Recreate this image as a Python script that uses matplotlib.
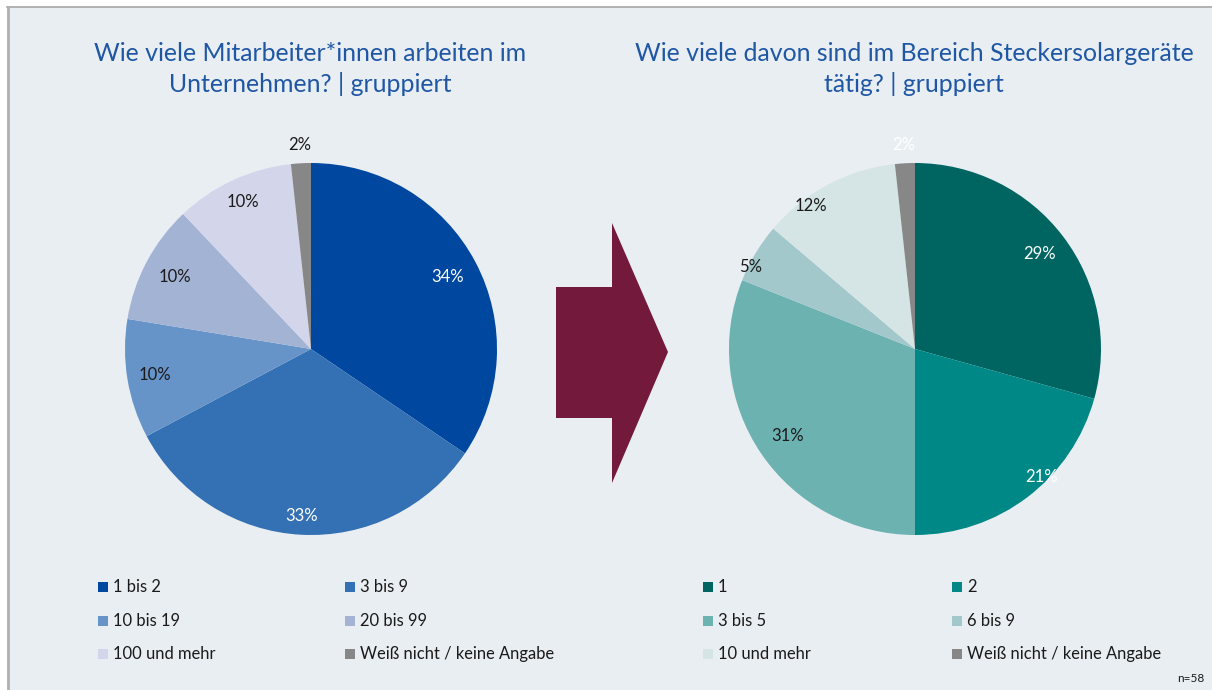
import matplotlib
matplotlib.use("Agg")
import matplotlib.pyplot as plt
from matplotlib.patches import Rectangle, Polygon
import numpy as np

plt.rcParams['font.family'] = ['Lato', 'DejaVu Sans']

# ---- data ----
left_title = "Wie viele Mitarbeiter*innen arbeiten im\nUnternehmen? | gruppiert"
left_categories = ["1 bis 2", "3 bis 9", "10 bis 19", "20 bis 99", "100 und mehr", "Weiß nicht / keine Angabe"]
left_counts = [20, 19, 6, 6, 6, 1]
left_labels = ["34%", "33%", "10%", "10%", "10%", "2%"]

right_title = "Wie viele davon sind im Bereich Steckersolargeräte\ntätig? | gruppiert"
right_categories = ["1", "2", "3 bis 5", "6 bis 9", "10 und mehr", "Weiß nicht / keine Angabe"]
right_counts = [17, 12, 18, 3, 7, 1]
right_labels = ["29%", "21%", "31%", "5%", "12%", "2%"]

n_text = "n=58"

# ---- styles ----
left_colors = ["#0047A0", "#3370B4", "#6694C8", "#A3B3D4", "#D3D6EB", "#878787"]
right_colors = ["#006560", "#008886", "#6CB2B1", "#A3C8CB", "#D5E5E5", "#878787"]
left_label_colors = ["white", "white", "#1a1a1a", "#1a1a1a", "#1a1a1a", "#1a1a1a"]
right_label_colors = ["white", "white", "#1a1a1a", "#1a1a1a", "#1a1a1a", "white"]
# label placement: radial distance (fraction of radius) and angular nudge (deg)
left_label_dist = [0.83, 0.90, 0.85, 0.83, 0.87, 1.10]
left_label_nudge = [0, 0, 0, 0, 0, 0]
right_label_dist = [0.84, 0.97, 0.83, 0.99, 0.95, 1.10]
right_label_nudge = [0, 7.4, 0, 4.6, 8.0, 0]

BG = "#E9EEF3"
TITLE_C = "#1F57A5"
ARROW_C = "#731A3C"
TXT_C = "#1a1a1a"

W, H = 1212, 690
fig = plt.figure(figsize=(W / 100, H / 100), dpi=100)
fig.patch.set_facecolor("white")
ax = fig.add_axes([0, 0, 1, 1])
ax.set_xlim(0, W)
ax.set_ylim(0, H)
ax.set_axis_off()

def Y(y):
    return H - y

# background panel with gray border top / left
ax.add_patch(Rectangle((7, 0), W - 7, H - 7, facecolor=BG, edgecolor="none", zorder=0))
ax.plot([7, W], [Y(7), Y(7)], color="#A6A6A6", lw=1.2, zorder=1)
ax.plot([7.5, 7.5], [0, Y(7)], color="#B0B0B0", lw=2, zorder=1)

R = 186

def draw_pie(cx, cy, counts, colors, labels, lcolors, ldist, lnudge):
    wedges, _ = ax.pie(counts, colors=colors, startangle=90, counterclock=False,
                       center=(cx, Y(cy)), radius=R, frame=True,
                       wedgeprops=dict(linewidth=0.5, edgecolor="none"))
    for w, lab, lc, d, nd in zip(wedges, labels, lcolors, ldist, lnudge):
        ang = np.deg2rad((w.theta1 + w.theta2) / 2 + nd)
        x = cx + d * R * np.cos(ang)
        y = Y(cy) + d * R * np.sin(ang)
        ax.text(x, y, lab, ha="center", va="center", fontsize=12, color=lc, zorder=5)

draw_pie(311, 349, left_counts, left_colors, left_labels, left_label_colors,
         left_label_dist, left_label_nudge)
draw_pie(915, 349, right_counts, right_colors, right_labels, right_label_colors,
         right_label_dist, right_label_nudge)

ax.set_xlim(0, W)
ax.set_ylim(0, H)
ax.set_aspect("auto")
ax.set_axis_off()

# titles
ax.text(310, Y(69), left_title, ha="center", va="center", fontsize=17.9,
        color=TITLE_C, linespacing=1.38)
ax.text(914, Y(69), right_title, ha="center", va="center", fontsize=17.9,
        color=TITLE_C, linespacing=1.38)

# arrow
arrow = Polygon([(556, Y(287)), (612, Y(287)), (612, Y(223)), (668, Y(352)),
                 (612, Y(483)), (612, Y(418)), (556, Y(418))],
                closed=True, facecolor=ARROW_C, edgecolor="none", zorder=3)
ax.add_patch(arrow)

# legends
def draw_legend(x1, x2, cats, colors):
    rows = [587, 621, 654]
    for i, (c, col) in enumerate(zip(cats, colors)):
        x = x1 if i % 2 == 0 else x2
        y = rows[i // 2]
        ax.add_patch(Rectangle((x, Y(y) - 5), 10, 10, facecolor=col, edgecolor="none"))
        ax.text(x + 15, Y(y), c, ha="left", va="center", fontsize=11.9, color=TXT_C)

draw_legend(98, 345, left_categories, left_colors)
draw_legend(703, 952, right_categories, right_colors)

ax.text(1204, Y(679), n_text, ha="right", va="center", fontsize=8.5, color=TXT_C)

fig.savefig("out.png", dpi=100, facecolor=fig.get_facecolor())
